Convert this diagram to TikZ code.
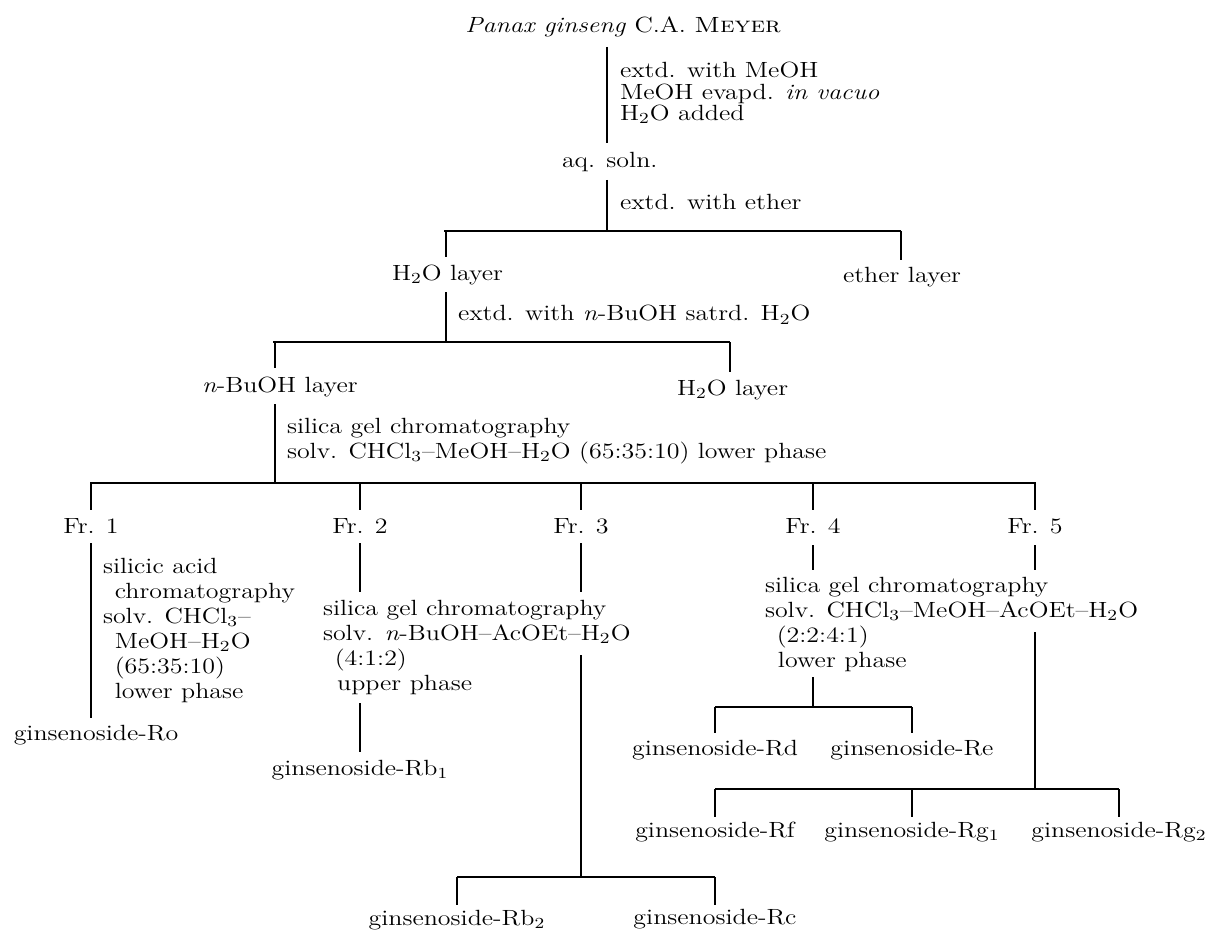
\documentclass[tikz,border=0pt]{standalone}
\usepackage{graphicx}
\newcommand{\wtxt}[1]{\scalebox{1.18}[1]{#1}}
\newcommand{\wlines}[2]{\scalebox{1.18}[1]{\renewcommand{\arraystretch}{#1}\begin{tabular}[t]{@{}l@{}}#2\end{tabular}}}
\newcommand{\HtwoO}{H\textsubscript{2}O}
\tikzset{
  txt/.style={inner sep=0pt, outer sep=0pt, font=\fontsize{11}{12}\selectfont},
  lw/.style={txt, anchor=base west},
  lc/.style={txt, anchor=base},
  ln/.style={line width=0.55pt, line cap=butt}
}
\begin{document}
\begin{tikzpicture}[x=0.5pt,y=-0.5pt]
\useasboundingbox (0,0) rectangle (1217,931);
% --- top
\node[lc] (title) at (623,33) {\wtxt{\textit{Panax ginseng} C.A. \textsc{Meyer}}};
\draw[ln] (607,47) -- (607,143);
\node[lw] (s1) at (620,78) {\wlines{0.8125}{extd. with MeOH\\ MeOH evapd. \textit{in vacuo}\\ \HtwoO{} added}};
\node[lw] (aq) at (562,168) {\wtxt{aq. soln.}};
\draw[ln] (607,180) -- (607,231);
\node[lw] (s2) at (620,210) {\wtxt{extd. with ether}};
\draw[ln] (444,231) -- (901,231);
\draw[ln] (446,231) -- (446,257);
\draw[ln] (901,231) -- (901,260);
\node[lw] (w1) at (392,280) {\wtxt{\HtwoO{} layer}};
\node[lc] (eth) at (902,283) {\wtxt{ether layer}};
% --- BuOH extraction
\draw[ln] (446,292) -- (446,342);
\node[lw] (s3) at (458,321) {\wtxt{extd. with \textit{n}-BuOH satrd. \HtwoO}};
\draw[ln] (273,342) -- (730,342);
\draw[ln] (275,342) -- (275,368);
\draw[ln] (730,342) -- (730,372);
\node[lw] (bu) at (202,392) {\wtxt{\textit{n}-BuOH layer}};
\node[lw] (w2) at (677,395) {\wtxt{\HtwoO{} layer}};
% --- silica gel
\draw[ln] (275,404) -- (275,483);
\node[lw] (s4) at (287,433) {\wlines{1.0417}{silica gel chromatography\\ solv. CHCl\textsubscript{3}--MeOH--\HtwoO{} (65:35:10) lower phase}};
\draw[ln] (90,483) -- (1036,483);
\foreach \xx in {91,360,581,813,1035} \draw[ln] (\xx,483) -- (\xx,510);
\node[lc] (f1) at (91,533) {\wtxt{Fr. 1}};
\node[lc] (f2) at (360,533) {\wtxt{Fr. 2}};
\node[lc] (f3) at (581,533) {\wtxt{Fr. 3}};
\node[lc] (f4) at (813,533) {\wtxt{Fr. 4}};
\node[lc] (f5) at (1035,533) {\wtxt{Fr. 5}};
% --- Fr. 1
\draw[ln] (91,543) -- (91,718);
\node[lw] (s5) at (103,573) {\wlines{1.0417}{silicic acid\\ \hspace*{5pt}chromatography\\ solv. CHCl\textsubscript{3}--\\ \hspace*{5pt}MeOH--\HtwoO\\ \hspace*{5pt}(65:35:10)\\ \hspace*{5pt}lower phase}};
\node[lc] (ro) at (96,740) {\wtxt{ginsenoside-Ro}};
% --- Fr. 2
\draw[ln] (360,543) -- (360,592);
\node[lw] (s6) at (323,615) {\wlines{1.0417}{silica gel chromatography\\ solv. \textit{n}-BuOH--AcOEt--\HtwoO\\ \hspace*{5pt}(4:1:2)\\ \hspace*{6pt}upper phase}};
\draw[ln] (360,703) -- (360,752);
\node[lc] (rb1) at (360,775) {\wtxt{ginsenoside-Rb\textsubscript{1}}};
% --- Fr. 3
\draw[ln] (581,543) -- (581,592);
\draw[ln] (581,655) -- (581,877);
\draw[ln] (457,877) -- (715,877);
\draw[ln] (457,877) -- (457,905);
\draw[ln] (715,877) -- (715,905);
\node[lc] (rb2) at (457,925) {\wtxt{ginsenoside-Rb\textsubscript{2}}};
\node[lc] (rc) at (715,924) {\wtxt{ginsenoside-Rc}};
% --- Fr. 4
\draw[ln] (813,545) -- (813,570);
\node[lw] (s7) at (765,592) {\wlines{1.0417}{silica gel chromatography\\ solv. CHCl\textsubscript{3}--MeOH--AcOEt--\HtwoO\\ \hspace*{5pt}(2:2:4:1)\\ \hspace*{5.5pt}lower phase}};
\draw[ln] (813,677) -- (813,707);
\draw[ln] (715,707) -- (912,707);
\draw[ln] (715,707) -- (715,733);
\draw[ln] (912,707) -- (912,733);
\node[lc] (rd) at (715,755) {\wtxt{ginsenoside-Rd}};
\node[lc] (re) at (912,755) {\wtxt{ginsenoside-Re}};
% --- Fr. 5
\draw[ln] (1035,545) -- (1035,570);
\draw[ln] (1035,632) -- (1035,789);
\draw[ln] (715,789) -- (1119,789);
\foreach \xx in {715,912,1119} \draw[ln] (\xx,789) -- (\xx,817);
\node[lc] (rf) at (715,837) {\wtxt{ginsenoside-Rf}};
\node[lc] (rg1) at (912,837) {\wtxt{ginsenoside-Rg\textsubscript{1}}};
\node[lc] (rg2) at (1119,837) {\wtxt{ginsenoside-Rg\textsubscript{2}}};
\end{tikzpicture}
\end{document}
